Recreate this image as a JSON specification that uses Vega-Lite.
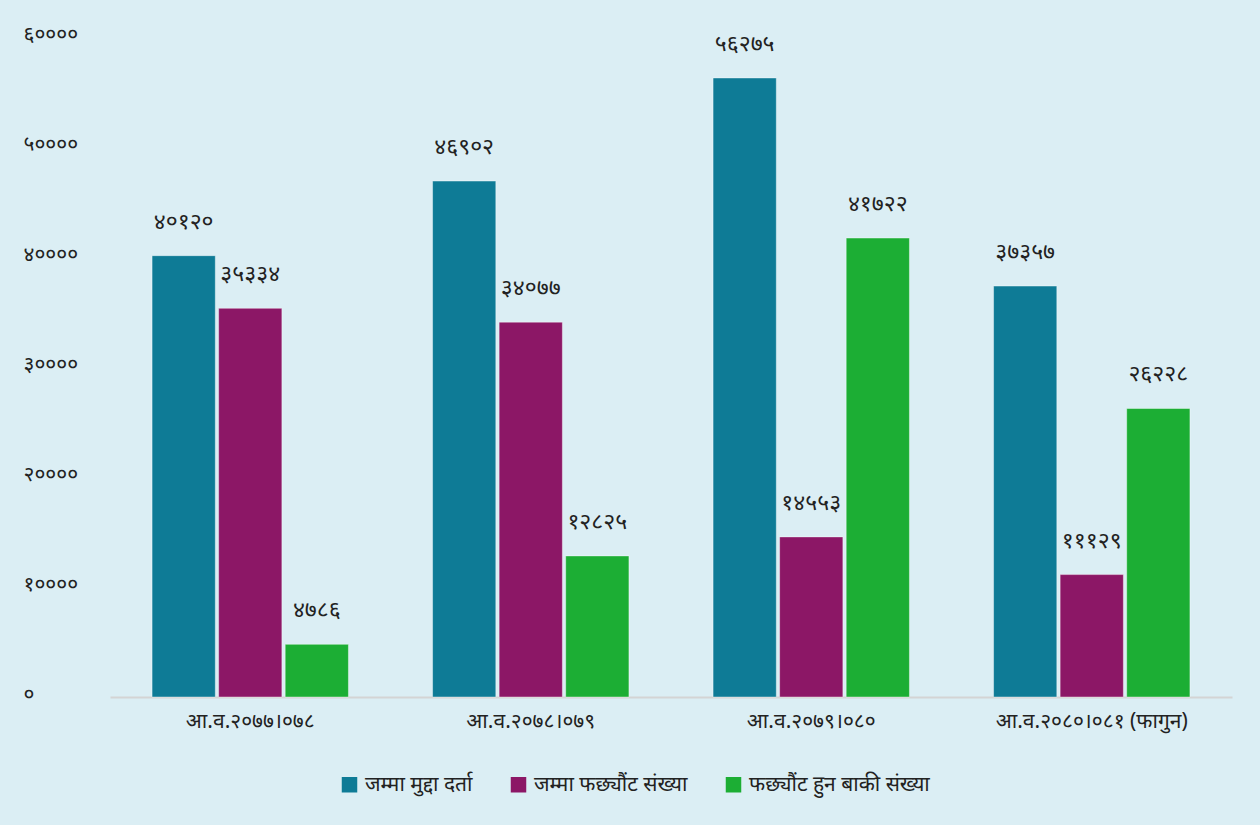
{
  "$schema": "https://vega.github.io/schema/vega-lite/v6.json",
  "autosize": "none",
  "width": 1122,
  "height": 660,
  "padding": {"left": 110, "top": 37, "right": 28, "bottom": 128},
  "background": "#dbeef4",
  "config": {
    "view": {"stroke": null},
    "font": "Noto Sans"
  },
  "data": {
    "values": [
      {"year": "आ.व.२०७७।०७८", "series": "जम्मा मुद्दा दर्ता", "value": 40120, "label": "४०१२०"},
      {"year": "आ.व.२०७७।०७८", "series": "जम्मा फछ्यौंट संख्या", "value": 35334, "label": "३५३३४"},
      {"year": "आ.व.२०७७।०७८", "series": "फछ्यौंट हुन बाकी संख्या", "value": 4786, "label": "४७८६"},
      {"year": "आ.व.२०७८।०७९", "series": "जम्मा मुद्दा दर्ता", "value": 46902, "label": "४६९०२"},
      {"year": "आ.व.२०७८।०७९", "series": "जम्मा फछ्यौंट संख्या", "value": 34077, "label": "३४०७७"},
      {"year": "आ.व.२०७८।०७९", "series": "फछ्यौंट हुन बाकी संख्या", "value": 12825, "label": "१२८२५"},
      {"year": "आ.व.२०७९।०८०", "series": "जम्मा मुद्दा दर्ता", "value": 56275, "label": "५६२७५"},
      {"year": "आ.व.२०७९।०८०", "series": "जम्मा फछ्यौंट संख्या", "value": 14553, "label": "१४५५३"},
      {"year": "आ.व.२०७९।०८०", "series": "फछ्यौंट हुन बाकी संख्या", "value": 41722, "label": "४१७२२"},
      {"year": "आ.व.२०८०।०८१ (फागुन)", "series": "जम्मा मुद्दा दर्ता", "value": 37357, "label": "३७३५७"},
      {"year": "आ.व.२०८०।०८१ (फागुन)", "series": "जम्मा फछ्यौंट संख्या", "value": 11129, "label": "१११२९"},
      {"year": "आ.व.२०८०।०८१ (फागुन)", "series": "फछ्यौंट हुन बाकी संख्या", "value": 26228, "label": "२६२२८"}
    ]
  },
  "encoding": {
    "x": {
      "field": "year",
      "type": "nominal",
      "sort": null,
      "scale": {"paddingInner": 0.3, "paddingOuter": 0.15},
      "axis": {
        "title": null,
        "labelAngle": 0,
        "labelFontSize": 21,
        "labelLimit": 0,
        "labelColor": "#222222",
        "labelPadding": 13,
        "ticks": false,
        "domainColor": "#d4d4d4",
        "domainWidth": 2
      }
    },
    "xOffset": {
      "field": "series",
      "type": "nominal",
      "sort": ["जम्मा मुद्दा दर्ता", "जम्मा फछ्यौंट संख्या", "फछ्यौंट हुन बाकी संख्या"],
      "scale": {"paddingInner": 0.05}
    },
    "y": {
      "field": "value",
      "type": "quantitative",
      "scale": {"domain": [0, 60000]},
      "axis": {
        "title": null,
        "values": [0, 10000, 20000, 30000, 40000, 50000, 60000],
        "labelExpr": "['०','१००००','२००००','३००००','४००००','५००००','६००००'][round(datum.value/10000)]",
        "labelAlign": "left",
        "labelPadding": 87,
        "labelOffset": -3,
        "labelFontSize": 21,
        "labelColor": "#222222",
        "ticks": false,
        "domain": false,
        "grid": false
      }
    }
  },
  "layer": [
    {
      "mark": {"type": "bar", "stroke": "#ffffff", "strokeOpacity": 0.4, "strokeWidth": 1},
      "encoding": {
        "color": {
          "field": "series",
          "type": "nominal",
          "sort": ["जम्मा मुद्दा दर्ता", "जम्मा फछ्यौंट संख्या", "फछ्यौंट हुन बाकी संख्या"],
          "scale": {
            "domain": ["जम्मा मुद्दा दर्ता", "जम्मा फछ्यौंट संख्या", "फछ्यौंट हुन बाकी संख्या"],
            "range": ["#0e7b96", "#8c1766", "#1cae34"]
          },
          "legend": {
            "title": null,
            "orient": "none",
            "direction": "horizontal",
            "legendX": 229,
            "legendY": 737,
            "symbolType": "square",
            "symbolSize": 240,
            "symbolStrokeWidth": 0,
            "labelFontSize": 21,
            "labelLimit": 0,
            "labelColor": "#222222",
            "columnPadding": 35,
            "labelOffset": 5
          }
        }
      }
    },
    {
      "mark": {"type": "text", "baseline": "middle", "dy": -34, "fontSize": 23, "color": "#222222"},
      "encoding": {
        "text": {"field": "label"}
      }
    }
  ]
}
